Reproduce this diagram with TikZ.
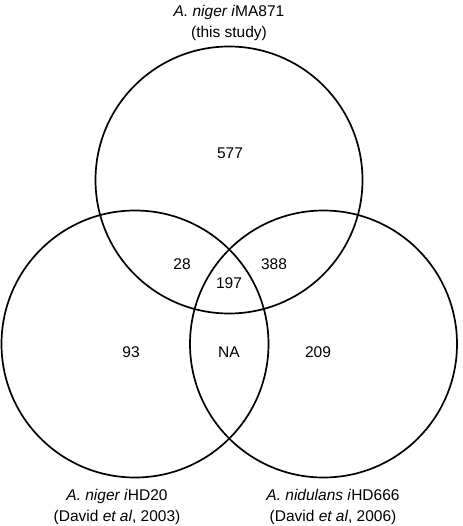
\documentclass[tikz,border=0pt]{standalone}
\usepackage{fontspec}
\setmainfont{Liberation Sans}
\begin{document}
\begin{tikzpicture}[x=1pt,y=-1pt,
  setc/.style={circle,draw=black,line width=1.7pt,minimum size=267pt,inner sep=0pt},
  num/.style={font=\fontsize{15.5}{18}\selectfont,inner sep=0pt},
  ttl/.style={font=\fontsize{15.5}{21}\selectfont,inner sep=0pt,align=center}]
\path[use as bounding box] (0,0) rectangle (462,526);
\node[setc] (top) at (229,180) {};
\node[setc] (left) at (135,344) {};
\node[setc] (right) at (323.5,344) {};
\node[num] (n577) at (230,153) {577};
\node[num] (n28) at (182,264) {28};
\node[num] (n388) at (274,264) {388};
\node[num] (n197) at (229,283) {197};
\node[num] (n93) at (131,352) {93};
\node[num] (nNA) at (229,352) {NA};
\node[num] (n209) at (318,352) {209};
\node[ttl] (ttop) at (229,23) {\textit{A. niger i}MA871\\(this study)};
\node[ttl] (tleft) at (117,507) {\textit{A. niger i}HD20\\(David \textit{et al}, 2003)};
\node[ttl] (tright) at (333,507) {\textit{A. nidulans i}HD666\\(David \textit{et al}, 2006)};
\end{tikzpicture}
\end{document}
